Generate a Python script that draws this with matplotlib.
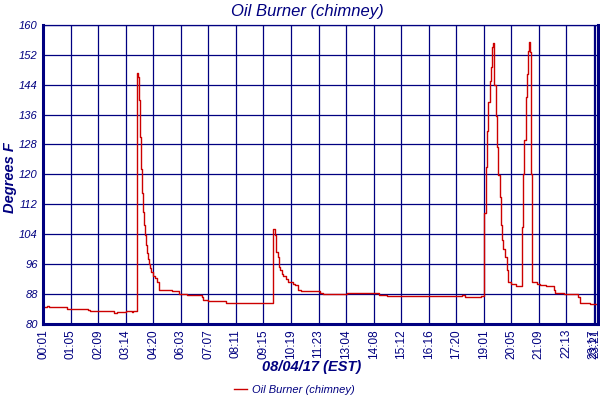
import matplotlib
matplotlib.use("Agg")
from matplotlib import pyplot as plt

# sample index (about one reading per minute) and chimney temperature
idx = [0, 8, 14, 54, 105, 109, 164, 172, 192, 206, 209, 217, 219, 221, 223, 225, 228,
       230, 232, 234, 237, 239, 241, 244, 246, 249, 251, 254, 256, 260, 264, 268, 270,
       299, 316, 335, 368, 372, 384, 425, 435, 533, 535, 538, 540, 542, 545, 547, 549,
       551, 555, 558, 565, 570, 580, 586, 592, 599, 643, 650, 706, 780, 799, 962, 974,
       981, 1015, 1018, 1026, 1029, 1032, 1035, 1039, 1042, 1044, 1046, 1047, 1049,
       1052, 1055, 1058, 1061, 1064, 1067, 1070, 1074, 1078, 1081, 1088, 1100, 1113,
       1116, 1119, 1122, 1125, 1128, 1130, 1131, 1133, 1137, 1148, 1154, 1170, 1188,
       1191, 1210, 1218, 1232, 1243, 1247, 1272, 1290]
temp = [84.5, 84.7, 84.5, 83.9, 83.7, 83.35, 82.9, 83.2, 83.4, 83.2, 83.4, 115.2, 147.1,
        146.0, 139.8, 130.1, 121.5, 115.1, 109.9, 106.3, 103.7, 101.0, 98.8, 97.2, 95.9,
        94.8, 93.9, 93.2, 92.7, 92.1, 91.2, 89.1, 89.0, 88.7, 87.9, 87.6, 87.0, 86.3,
        86.0, 85.6, 85.4, 95.2, 105.2, 103.7, 101.4, 99.2, 97.7, 96.5, 95.2, 94.3, 93.4,
        92.7, 91.8, 91.1, 90.7, 90.3, 89.0, 88.7, 88.1, 87.8, 88.1, 87.6, 87.5, 87.35,
        87.6, 87.2, 87.0, 87.35, 109.6, 121.9, 131.7, 139.3, 145.1, 148.7, 154.0, 155.3,
        153.1, 143.8, 135.7, 127.3, 119.7, 113.9, 106.3, 102.3, 100.1, 97.9, 94.3, 91.0,
        90.6, 90.1, 105.9, 120.2, 129.1, 140.6, 146.9, 153.1, 155.5, 152.7, 120.2, 91.0,
        90.6, 90.2, 90.1, 89.0, 88.1, 88.0, 87.9, 87.8, 87.1, 85.6, 85.2, 85.1]

tick_pos = [0, 64, 128, 192, 256, 320, 384, 448, 512, 576, 640, 704, 768, 832, 896,
            960, 1024, 1088, 1152, 1216, 1280, 1284]
tick_lab = ["00:01", "01:05", "02:09", "03:14", "04:20", "06:03", "07:07", "08:11",
            "09:15", "10:19", "11:23", "13:04", "14:08", "15:12", "16:16", "17:20",
            "19:01", "20:05", "21:09", "22:13", "23:17", "23:21"]

navy = "#000080"
red = "#cc0000"
plt.rcParams['font.family'] = ['Liberation Sans', 'DejaVu Sans']

fig = plt.figure(figsize=(6, 4), dpi=100)
ax = fig.add_axes([0.0722, 0.19125, 0.9245, 0.74625])

ax.plot(idx, temp, color=red, lw=1.0, drawstyle='steps-post', label="Oil Burner (chimney)")

ax.set_xlim(0, 1290)
ax.set_ylim(80, 160)
ax.set_yticks(range(80, 161, 8))
ax.set_xticks(tick_pos)
ax.set_xticklabels(tick_lab, rotation=90, fontsize=8.5, color=navy)
ax.tick_params(axis='y', labelsize=8, labelcolor=navy, length=0, pad=4)
ax.tick_params(axis='x', length=0, pad=4)
for t in ax.get_yticklabels():
    t.set_fontstyle('italic')
ax.grid(True, color=navy, lw=0.9)
ax.set_axisbelow(True)

for s in ['left', 'bottom', 'right']:
    ax.spines[s].set_color(navy)
    ax.spines[s].set_linewidth(2.2)
ax.spines['top'].set_color(navy)
ax.spines['top'].set_linewidth(0.9)

fig.text(0.513, 0.972, "Oil Burner (chimney)", ha='center', va='center', fontsize=12,
         style='italic', color=navy)
fig.text(0.017, 0.555, "Degrees F", ha='center', va='center', rotation=90, fontsize=10.5,
         style='italic', weight='bold', color=navy)
fig.text(0.52, 0.083, "08/04/17 (EST)", ha='center', va='center', fontsize=10.5,
         style='italic', weight='bold', color=navy)

leg = fig.legend(loc='center', bbox_to_anchor=(0.49, 0.025), frameon=False,
                 fontsize=8, handlelength=1.2, handletextpad=0.4)
for t in leg.get_texts():
    t.set_color(navy)
    t.set_fontstyle('italic')

fig.savefig("out.png", dpi=100)
